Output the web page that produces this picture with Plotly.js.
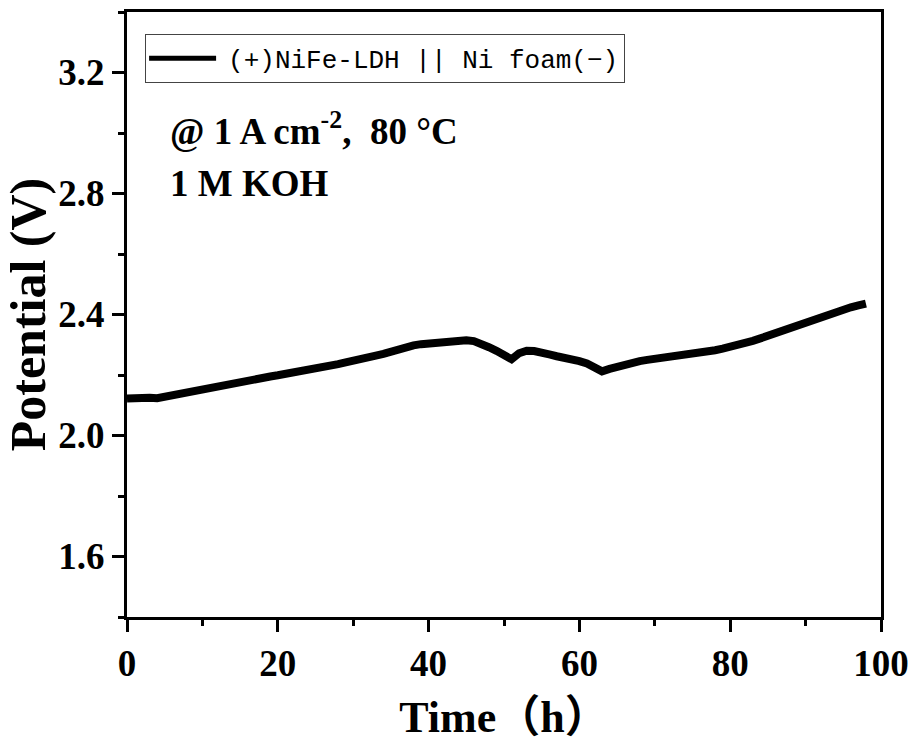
<!DOCTYPE html>
<html>
<head>
<meta charset="utf-8">
<script src="https://cdn.plot.ly/plotly-3.0.1.min.js"></script>
<style>html,body{margin:0;padding:0;background:#fff;}#chart{width:912px;height:742px;}</style>
</head>
<body>
<div id="chart"></div>
<script>
const timeH = [0,1,2,3,4,5,6,7,8,9,10,11,12,13,14,15,16,17,18,19,20,21,22,23,24,25,26,27,28,29,30,31,32,33,34,35,36,37,38,39,40,41,42,43,44,45,46,47,48,49,50,51,52,53,54,55,56,57,58,59,60,61,62,63,64,65,66,67,68,69,70,71,72,73,74,75,76,77,78,79,80,81,82,83,84,85,86,87,88,89,90,91,92,93,94,95,96,97,98];
const potentialV = [2.122,2.124,2.121,2.125,2.123,2.128,2.132,2.140,2.145,2.150,
  2.156,2.160,2.166,2.170,2.176,2.178,2.183,2.186,2.190,2.195,
  2.199,2.203,2.208,2.213,2.216,2.222,2.226,2.232,2.236,2.242,
  2.246,2.251,2.258,2.264,2.270,2.278,2.286,2.293,2.298,2.302,
  2.305,2.306,2.309,2.311,2.313,2.315,2.312,2.305,2.292,2.280,
  2.266,2.252,2.272,2.280,2.279,2.276,2.268,2.262,2.258,2.252,
  2.246,2.238,2.228,2.212,2.220,2.228,2.234,2.240,2.246,2.250,
  2.253,2.256,2.260,2.262,2.265,2.268,2.272,2.276,2.282,2.287,
  2.292,2.298,2.306,2.313,2.321,2.330,2.340,2.349,2.357,2.366,
  2.374,2.383,2.393,2.402,2.410,2.417,2.424,2.430,2.436];
const seriesName = "(+)NiFe-LDH || Ni foam(\u2212)";
const xTicks = [0,20,40,60,80,100];
const yTicks = [1.6,2.0,2.4,2.8,3.2];
const yTickText = ["1.6","2.0","2.4","2.8","3.2"];

const serif = '"Liberation Serif", "Times New Roman", serif';
const trace = {
  x: timeH, y: potentialV, type: 'scatter', mode: 'lines', name: seriesName,
  line: {color: '#000', width: 8}
};
const axisCommon = {
  showline: true, linewidth: 3, linecolor: '#000', mirror: true,
  ticks: 'outside', ticklen: 12, tickwidth: 3, tickcolor: '#000',
  showgrid: false, zeroline: false,
  tickfont: {family: serif, size: 37, color: '#000', weight: 'bold'}
};
const layout = {
  width: 912, height: 742,
  margin: {l: 127, r: 31, t: 12, b: 125},
  paper_bgcolor: '#fff', plot_bgcolor: '#fff',
  showlegend: true,
  legend: {x: 0.024, y: 0.964, xanchor: 'left', yanchor: 'top',
    bgcolor: '#fff', bordercolor: '#444', borderwidth: 1, itemwidth: 72,
    font: {family: '"Liberation Mono", monospace', size: 26, color: '#000'}},
  xaxis: Object.assign({}, axisCommon, {
    range: [0, 100], tickvals: xTicks,
    minor: {dtick: 10, ticks: 'outside', ticklen: 6, tickwidth: 3, tickcolor: '#000', showgrid: false},
    title: {text: '<b>Time\uFF08h\uFF09</b>', font: {family: serif + ', "Noto Sans CJK SC"', size: 44, color: '#000'}, standoff: 18}
  }),
  yaxis: Object.assign({}, axisCommon, {
    range: [1.4, 3.4], tickvals: yTicks, ticktext: yTickText,
    minor: {dtick: 0.2, ticks: 'outside', ticklen: 6, tickwidth: 3, tickcolor: '#000', showgrid: false},
    title: {text: '<b>Potential (V)</b>', font: {family: serif, size: 50, color: '#000'}, standoff: 4}
  }),
  annotations: [
    {xref: 'paper', yref: 'paper', x: 0.055, y: 0.808, xanchor: 'left', yanchor: 'middle', showarrow: false,
     text: '<b>@ 1 A cm<sup>-2</sup>,  80 \u00B0C</b>', font: {family: serif, size: 37, color: '#000'}},
    {xref: 'paper', yref: 'paper', x: 0.055, y: 0.717, xanchor: 'left', yanchor: 'middle', showarrow: false,
     text: '<b>1 M KOH</b>', font: {family: serif, size: 37, color: '#000'}}
  ]
};
Plotly.newPlot('chart', [trace], layout, {displayModeBar: false, staticPlot: true}).then(function (gd) {
  gd.querySelectorAll('.legend .legendlines path').forEach(function (p) {
    p.setAttribute('d', 'M3,0h67');
    p.style.strokeWidth = '5px';
  });
});
</script>
</body>
</html>
